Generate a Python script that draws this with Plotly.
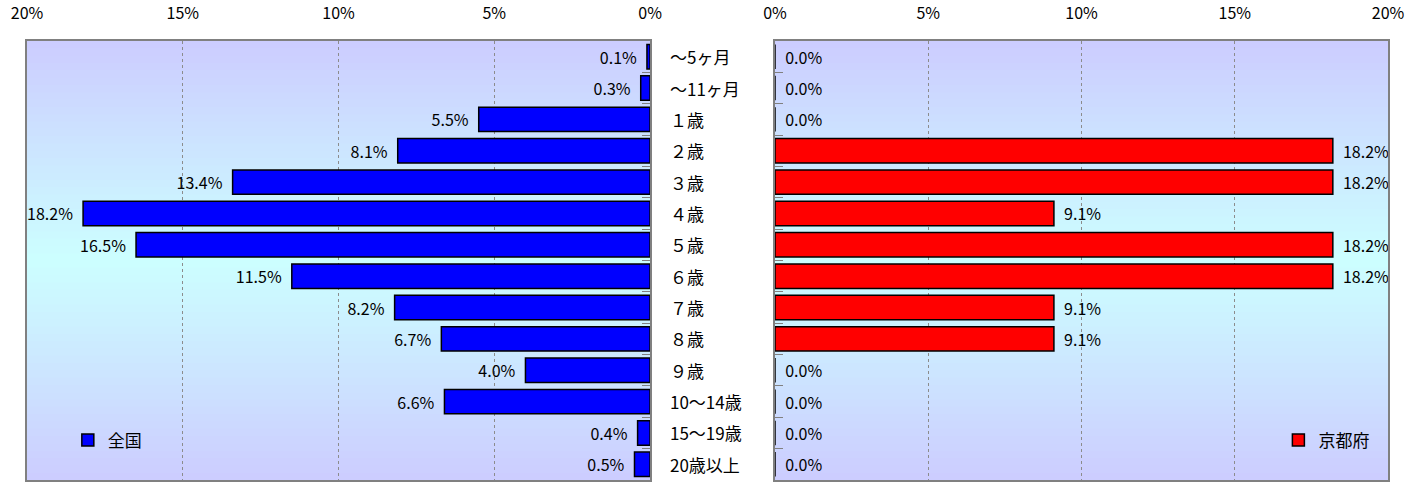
import plotly.graph_objects as go

categories = ["～5ヶ月", "～11ヶ月", "１歳", "２歳", "３歳", "４歳", "５歳", "６歳",
              "７歳", "８歳", "９歳", "10～14歳", "15～19歳", "20歳以上"]
zenkoku = [0.1, 0.3, 5.5, 8.1, 13.4, 18.2, 16.5, 11.5, 8.2, 6.7, 4.0, 6.6, 0.4, 0.5]
kyoto = [0.0, 0.0, 0.0, 18.2, 18.2, 9.1, 18.2, 18.2, 9.1, 9.1, 0.0, 0.0, 0.0, 0.0]
tick_vals = [0, 5, 10, 15, 20]
tick_text = ["0%", "5%", "10%", "15%", "20%"]

FONT = "Noto Sans CJK JP"
PAD = "\u00a0\u00a0"

fig = go.Figure()
fig.add_trace(go.Bar(
    y=categories, x=zenkoku, orientation="h", name="全国",
    marker=dict(color="#0000FF", line=dict(color="#000000", width=1.5)),
    texttemplate="%{x:.1f}%" + PAD, textposition="outside", constraintext="none",
    textfont=dict(size=16, color="#000"), cliponaxis=False,
    width=0.78, xaxis="x", yaxis="y", legend="legend",
))
fig.add_trace(go.Bar(
    y=categories, x=kyoto, orientation="h", name="京都府",
    marker=dict(color="#FF0000", line=dict(color="#000000", width=1.5)),
    texttemplate=PAD + "%{x:.1f}%", textposition="outside", constraintext="none",
    textfont=dict(size=16, color="#000"), cliponaxis=False,
    width=0.78, xaxis="x2", yaxis="y2", legend="legend2",
))

# gradient background shapes
def lerp(c1, c2, t):
    return "#%02x%02x%02x" % tuple(round(a + (b - a) * t) for a, b in zip(c1, c2))

top = (0xCC, 0xCC, 0xFF)
mid = (0xCC, 0xFF, 0xFF)
N = 60
shapes = []
for ax in ["x", "x2"]:
    yax = "y" if ax == "x" else "y2"
    for i in range(N):
        y0 = i / N
        y1 = (i + 1) / N
        c = (y0 + y1) / 2
        t = 1 - abs(c - 0.5) / 0.5
        shapes.append(dict(type="rect", xref=f"{ax} domain", yref=f"{yax} domain",
                           x0=0, x1=1, y0=y0, y1=min(1, y1 + 0.002), layer="below",
                           line=dict(width=0), fillcolor=lerp(top, mid, t)))

annotations = []
for cat in categories:
    annotations.append(dict(xref="paper", yref="y", x=0.471, y=cat, text=cat,
                            xanchor="left", yanchor="middle", showarrow=False,
                            font=dict(size=17, color="#000", family=FONT)))

axis_common = dict(tickvals=tick_vals, ticktext=tick_text, side="top",
                   showgrid=True, gridcolor="#8c8c8c", griddash="dot", gridwidth=1,
                   zeroline=False, showline=True, linecolor="#808080", linewidth=1.5,
                   mirror=True, ticks="", ticklabelstandoff=14, automargin=False,
                   tickfont=dict(size=16, color="#000", family=FONT))

ycommon = dict(autorange="reversed", showticklabels=False, automargin=False,
               ticks="inside", tickson="boundaries", ticklen=8, tickcolor="#808080",
               showline=True, linecolor="#808080", linewidth=1.5, mirror=True,
               showgrid=False)

fig.update_layout(
    width=1411, height=485,
    margin=dict(l=27, r=23, t=41, b=5, autoexpand=False),
    paper_bgcolor="white", plot_bgcolor="rgba(0,0,0,0)",
    font=dict(family=FONT, color="#000"),
    showlegend=True,
    xaxis=dict(domain=[0, 0.4578], range=[20, 0], anchor="y", **axis_common),
    xaxis2=dict(domain=[0.5496, 1], range=[0, 20], anchor="y2", **axis_common),
    yaxis=dict(anchor="x", side="right", **ycommon),
    yaxis2=dict(anchor="x2", side="left", **ycommon),
    legend=dict(x=0.03, y=0.09, xanchor="left", yanchor="middle", bgcolor="rgba(0,0,0,0)",
                font=dict(size=17, family=FONT), itemwidth=30, tracegroupgap=0),
    legend2=dict(x=0.99, y=0.09, xanchor="right", yanchor="middle", bgcolor="rgba(0,0,0,0)",
                 font=dict(size=17, family=FONT), itemwidth=30, tracegroupgap=0),
    shapes=shapes,
    annotations=annotations,
)

fig.write_html(
    "out.html",
    config={"displayModeBar": False},
    post_script="document.body.style.margin='0';document.body.style.overflow='hidden';",
)
